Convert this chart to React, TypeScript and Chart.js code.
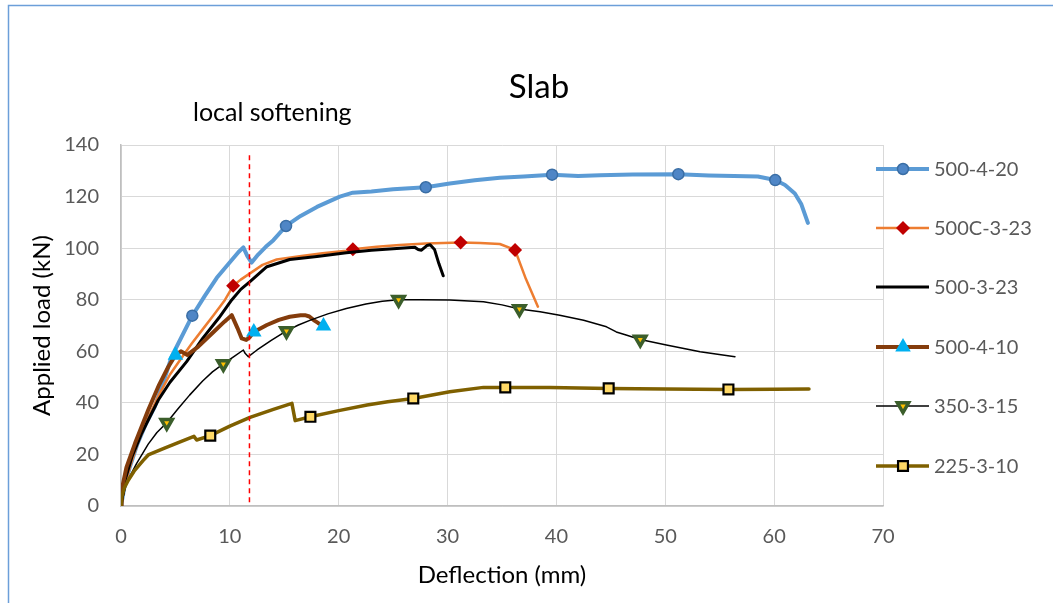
import React, { useEffect, useRef } from "react";
import { Chart, registerables } from "chart.js";

Chart.register(...registerables);

// ---------------- data ----------------
const xTicksMax = 70;
const yTicksMax = 140;

const s1Name = "500-4-20";
const s1X = [0, 0.3, 0.8, 1.5, 2.3, 3.1, 3.9, 4.65, 4.96, 6.55, 7.7, 8.8, 10.0, 10.8, 11.24, 11.6, 12.0, 12.6, 13.3, 14.0, 15.16, 16.5, 18.0, 20.1, 21.3, 23.0, 25.0, 28.0, 30.2, 32.5, 34.8, 37.0, 39.6, 42.0, 44.0, 47.0, 51.2, 54.0, 56.3, 58.5, 60.1, 61.0, 61.9, 62.5, 63.1];
const s1Y = [0, 7, 15, 24, 32, 38.5, 48, 57.9, 60.5, 73.8, 81.5, 88.5, 94.5, 98.5, 100.3, 97, 94.4, 97.5, 100.5, 103.1, 108.6, 112.5, 116, 120, 121.5, 122, 122.8, 123.6, 125.1, 126.3, 127.3, 127.8, 128.5, 128, 128.3, 128.6, 128.7, 128.2, 128, 127.8, 126.4, 124.5, 121.2, 117, 109.8];
const s1Marks = [9, 20, 27, 32, 36, 40];

const s2Name = "500C-3-23";
const s2X = [0, 0.3, 0.8, 1.5, 2.3, 2.82, 3.6, 4.5, 5.57, 6.5, 7.5, 8.5, 9.55, 10.3, 11.0, 11.85, 13.0, 14.3, 16.4, 18.5, 20.7, 21.3, 23.5, 25.6, 28.0, 31.2, 33.0, 34.8, 36.2, 37.2, 38.3];
const s2Y = [0, 7, 15, 24, 32, 37, 44, 51, 57.5, 63, 68.5, 74, 79.9, 85.4, 87.8, 90.2, 93.5, 95.6, 96.9, 98, 99, 99.6, 100.5, 101.2, 101.8, 102.2, 102, 101.6, 99.3, 88, 77.3];
const s2Marks = [13, 21, 25, 28];

const s3Name = "500-3-23";
const s3X = [0, 0.37, 1.0, 1.9, 2.7, 3.43, 4.5, 6.03, 7.5, 9.0, 10.17, 11.0, 11.85, 13.4, 15.5, 18.0, 20.7, 23.0, 25.0, 27.0, 27.3, 27.6, 28.1, 28.4, 28.8, 29.2, 29.6];
const s3Y = [0, 10, 19, 28.2, 35, 41.1, 48, 56, 65, 73, 79.9, 84, 87, 92.8, 95.6, 96.8, 98.2, 99.2, 99.8, 100.3, 99.5, 99.2, 101, 101.3, 99.5, 94, 89.3];

const s4Name = "500-4-10";
const s4X = [0, 0.06, 0.5, 1.29, 2.5, 3.5, 4.35, 5.0, 5.5, 6.1, 7.1, 8.5, 9.5, 10.17, 10.7, 11.09, 11.5, 11.85, 12.2, 13.4, 14.5, 15.5, 16.5, 16.9, 17.3, 17.7, 18.1, 18.6];
const s4Y = [0, 6.2, 15, 24.3, 37.2, 47, 54, 58.5, 60, 58.6, 61.8, 67.5, 71.5, 74, 69, 65, 64.4, 65.6, 67.5, 70.2, 72.2, 73.4, 74, 74, 73.5, 72.1, 71, 69.8];
const s4Marks = [7, 18, 27];

const s5Name = "350-3-15";
const s5X = [0, 0.5, 1.44, 2.5, 3.3, 4.2, 5.2, 6.3, 7.5, 8.4, 9.4, 10.4, 11.24, 11.4, 11.7, 12.5, 13.8, 15.2, 16.3, 17.4, 19.0, 20.7, 22.5, 24.0, 25.5, 27.5, 30.2, 33.3, 35.0, 36.6, 38.5, 40.3, 42.5, 44.6, 45.5, 46.4, 47.7, 50.1, 53.2, 56.4];
const s5Y = [0, 9, 16.5, 24, 28.5, 32.3, 37.5, 43, 48.5, 52, 55.1, 58, 60.5, 59.2, 57.9, 60.5, 64.2, 67.9, 70.2, 72.1, 74.5, 76.6, 78.3, 79.4, 80, 80, 79.9, 79.2, 78, 76.4, 75.3, 74, 72, 69.5, 67.5, 66.3, 64.6, 62.4, 59.8, 57.9];
const s5Marks = [5, 10, 17, 24, 29, 36];

const s6Name = "225-3-10";
const s6X = [0, 0.1, 0.3, 0.67, 1.2, 2.0, 2.5, 4.0, 5.2, 6.7, 6.95, 8.2, 10.0, 11.85, 14.0, 15.7, 16.0, 17.4, 20.0, 22.6, 24.5, 26.85, 30.2, 33.3, 35.3, 39.4, 44.8, 50.0, 55.8, 60.0, 63.2];
const s6Y = [0, 4, 7, 10, 13.5, 17.5, 19.8, 22.4, 24.5, 27, 25.6, 27.3, 31, 34.4, 37.5, 39.8, 33.1, 34.6, 37, 39.2, 40.4, 41.7, 44.3, 46, 46, 46, 45.6, 45.4, 45.2, 45.3, 45.4];
const s6Marks = [11, 17, 21, 24, 26, 28];

const softeningX = [11.8, 11.8];
const softeningY = [1.5, 137.5];

const chartTitle = "Slab";
const noteText = "local softening";
const xTitle = "Deflection (mm)";
const yTitle = "Applied load (kN)";

// ---------------- helpers ----------------
const pts = (xs: number[], ys: number[]) => xs.map((x, i) => ({ x, y: ys[i] }));

type Marker = {
  style: string;
  radius: number;
  fill: string;
  stroke: string;
  width: number;
  rotation: number;
};

const FONT = 'Lato, "Open Sans", "DejaVu Sans", sans-serif';

function drawMarker(ctx: CanvasRenderingContext2D, m: Marker, x: number, y: number) {
  const r = m.radius;
  ctx.save();
  ctx.translate(x, y);
  ctx.rotate((m.rotation * Math.PI) / 180);
  ctx.beginPath();
  if (m.style === "circle") {
    ctx.arc(0, 0, r, 0, Math.PI * 2);
  } else if (m.style === "rectRot") {
    ctx.moveTo(0, -r);
    ctx.lineTo(r, 0);
    ctx.lineTo(0, r);
    ctx.lineTo(-r, 0);
    ctx.closePath();
  } else if (m.style === "triangle") {
    for (let k = 0; k < 3; k++) {
      const a = (k * 2 * Math.PI) / 3;
      const px = Math.sin(a) * r;
      const py = -Math.cos(a) * r;
      if (k === 0) ctx.moveTo(px, py);
      else ctx.lineTo(px, py);
    }
    ctx.closePath();
  } else if (m.style === "rect") {
    const s = r * Math.SQRT1_2;
    ctx.rect(-s, -s, 2 * s, 2 * s);
  }
  ctx.fillStyle = m.fill;
  ctx.fill();
  if (m.width > 0) {
    ctx.lineWidth = m.width;
    ctx.strokeStyle = m.stroke;
    ctx.stroke();
  }
  ctx.restore();
}

export default function App() {
  const ref = useRef<HTMLCanvasElement | null>(null);

  useEffect(() => {
    if (!ref.current) return;

    const series = [
      { name: s1Name, data: pts(s1X, s1Y), color: "#5B9BD5", width: 4, marks: s1Marks,
        marker: { style: "circle", radius: 5.5, fill: "#4F86C6", stroke: "#3A6EA5", width: 1.5, rotation: 0 } },
      { name: s2Name, data: pts(s2X, s2Y), color: "#ED7D31", width: 2.5, marks: s2Marks,
        marker: { style: "rectRot", radius: 7, fill: "#C00000", stroke: "#C00000", width: 0, rotation: 0 } },
      { name: s3Name, data: pts(s3X, s3Y), color: "#000000", width: 3, marks: [] as number[],
        marker: null },
      { name: s4Name, data: pts(s4X, s4Y), color: "#843C0C", width: 4, marks: s4Marks,
        marker: { style: "triangle", radius: 9, fill: "#00B0F0", stroke: "#00B0F0", width: 0, rotation: 0 } },
      { name: s5Name, data: pts(s5X, s5Y), color: "#000000", width: 1.5, marks: s5Marks,
        marker: { style: "triangle", radius: 6.5, fill: "#FFC000", stroke: "#3B5E2B", width: 3.5, rotation: 180 } },
      { name: s6Name, data: pts(s6X, s6Y), color: "#7F6000", width: 3.5, marks: s6Marks,
        marker: { style: "rect", radius: 7, fill: "#FFD966", stroke: "#000000", width: 2.2, rotation: 0 } },
    ];

    const datasets: any[] = series.map((s, i) => ({
      label: s.name,
      data: s.data,
      borderColor: s.color,
      borderWidth: s.width,
      borderJoinStyle: "round",
      borderCapStyle: "round",
      tension: 0,
      fill: false,
      order: 7 - i,
      pointStyle: s.marker ? s.marker.style : "circle",
      pointRotation: s.marker ? s.marker.rotation : 0,
      pointBackgroundColor: s.marker ? s.marker.fill : s.color,
      pointBorderColor: s.marker ? s.marker.stroke : s.color,
      pointBorderWidth: s.marker ? s.marker.width : 0,
      pointRadius: (c: any) => (s.marker && s.marks.includes(c.dataIndex) ? s.marker.radius : 0),
      pointHoverRadius: 0,
    }));

    datasets.push({
      label: "softening",
      data: pts(softeningX, softeningY),
      borderColor: "#FF0000",
      borderWidth: 1.5,
      borderDash: [5, 4],
      pointRadius: 0,
      order: 0,
    });

    const overlay = {
      id: "overlay",
      afterDraw(chart: any) {
        const ctx: CanvasRenderingContext2D = chart.ctx;
        ctx.save();
        // frame
        ctx.strokeStyle = "#6C9FD9";
        ctx.lineWidth = 1.5;
        ctx.strokeRect(8.5, 5.5, 2000, 2000);
        // title
        ctx.fillStyle = "#000000";
        ctx.textBaseline = "middle";
        ctx.textAlign = "center";
        ctx.font = `33px ${FONT}`;
        ctx.fillText(chartTitle, 539, 87);
        // note
        ctx.textAlign = "left";
        ctx.font = `25px ${FONT}`;
        ctx.fillText(noteText, 193, 113);
        // legend
        const rowY = [169, 228, 287, 347, 406, 466];
        series.forEach((s, i) => {
          const y = rowY[i];
          ctx.beginPath();
          ctx.strokeStyle = s.color;
          ctx.lineWidth = s.width;
          ctx.lineCap = "butt";
          ctx.moveTo(876, y);
          ctx.lineTo(929, y);
          ctx.stroke();
          if (s.marker) drawMarker(ctx, s.marker as Marker, 903, y);
          ctx.fillStyle = "#595959";
          ctx.font = `20px ${FONT}`;
          ctx.textAlign = "left";
          ctx.textBaseline = "middle";
          ctx.fillText(s.name, 934, y + 1);
        });
        ctx.restore();
      },
    };

    const chart = new Chart(ref.current, {
      type: "line",
      data: { datasets },
      plugins: [overlay],
      options: {
        animation: false,
        responsive: false,
        devicePixelRatio: 1,
        layout: { padding: { left: 20, right: 170, top: 145, bottom: 10 } },
        plugins: {
          legend: { display: false },
          title: { display: false },
          tooltip: { enabled: false },
        },
        scales: {
          x: {
            type: "linear",
            min: 0,
            max: xTicksMax,
            afterFit: (sc: any) => { sc.height = 87; },
            ticks: { stepSize: 10, color: "#595959", padding: 19, font: { size: 20, family: FONT } },
            grid: { color: "#D9D9D9", lineWidth: 1, drawTicks: false },
            border: { color: "#BFBFBF", width: 1.5 },
            title: { display: true, text: xTitle, color: "#000000", font: { size: 24, family: FONT }, padding: { top: 0, bottom: 3 } },
          },
          y: {
            type: "linear",
            min: 0,
            max: yTicksMax,
            afterFit: (sc: any) => { sc.width = 101; },
            ticks: { stepSize: 20, color: "#595959", padding: 22, font: { size: 20, family: FONT } },
            grid: { color: "#D9D9D9", lineWidth: 1, drawTicks: false },
            border: { color: "#BFBFBF", width: 1.5 },
            title: { display: true, text: yTitle, color: "#000000", font: { size: 24, family: FONT }, padding: { top: 8, bottom: 0 } },
          },
        },
      } as any,
    });
    return () => chart.destroy();
  }, []);

  return (
    <div style={{ position: "absolute", left: 0, top: 0, width: 1053, height: 603 }}>
      <canvas ref={ref} width={1053} height={603} style={{ display: "block", width: 1053, height: 603 }} />
    </div>
  );
}
